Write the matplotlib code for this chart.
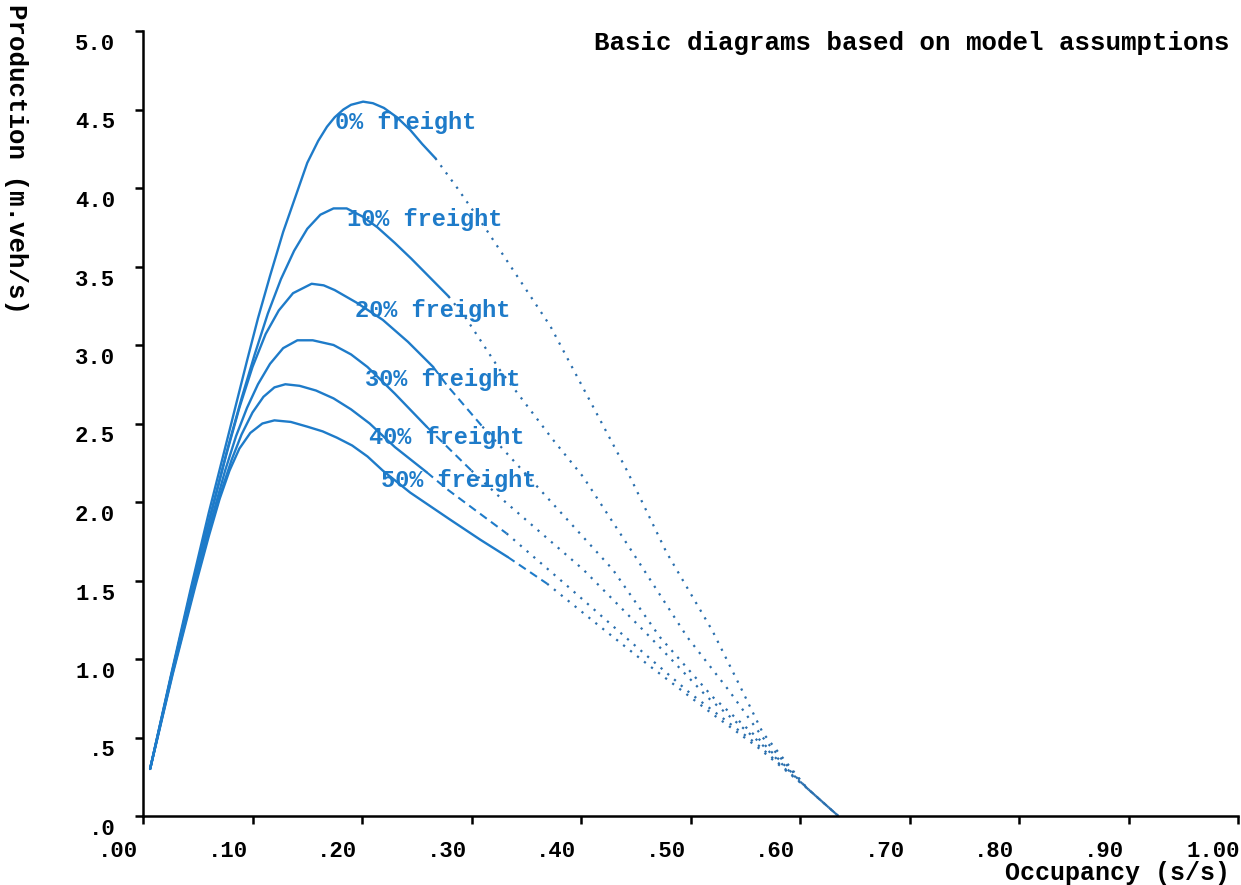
import numpy as np
import matplotlib
matplotlib.use("Agg")
import matplotlib.pyplot as plt
from matplotlib.transforms import ScaledTranslation

# production vs occupancy, one curve per freight share
freight_pct = [0, 10, 20, 30, 40, 50]

occ_0 = [0.0065, 0.025, 0.043, 0.060, 0.077, 0.086, 0.095, 0.105, 0.116, 0.128, 0.141, 0.150, 0.160, 0.168, 0.175,
         0.183, 0.190, 0.201, 0.210, 0.220, 0.232, 0.244, 0.255, 0.267,
         0.287, 0.314, 0.372, 0.442, 0.478, 0.520, 0.545, 0.566, 0.606, 0.635]
prod_0 = [0.30, 0.88, 1.43, 1.93, 2.40, 2.65, 2.90, 3.17, 3.44, 3.72, 3.98, 4.16, 4.30, 4.39, 4.45,
          4.50, 4.53, 4.55, 4.54, 4.51, 4.45, 4.37, 4.28, 4.19,
          4.00, 3.73, 3.12, 2.20, 1.68, 1.18, 0.83, 0.53, 0.18, 0.00]

occ_10 = [0.0065, 0.026, 0.045, 0.062, 0.078, 0.090, 0.102, 0.114, 0.126, 0.138, 0.150, 0.162, 0.174, 0.186,
          0.200, 0.214, 0.230, 0.245, 0.262, 0.279,
          0.295, 0.326, 0.374, 0.402, 0.447, 0.497, 0.535, 0.566, 0.606, 0.635]
prod_10 = [0.30, 0.90, 1.47, 1.93, 2.36, 2.66, 2.94, 3.20, 3.42, 3.60, 3.74, 3.83, 3.87, 3.87,
           3.82, 3.75, 3.65, 3.55, 3.43, 3.31,
           3.17, 2.84, 2.40, 2.16, 1.68, 1.14, 0.80, 0.50, 0.18, 0.00]

occ_20 = [0.0065, 0.026, 0.046, 0.062, 0.076, 0.088, 0.100, 0.112, 0.124, 0.137, 0.154, 0.165, 0.175, 0.195,
          0.219, 0.242, 0.265, 0.278, 0.310, 0.365, 0.429, 0.472, 0.520, 0.564, 0.606, 0.635]
prod_20 = [0.30, 0.90, 1.49, 1.92, 2.30, 2.60, 2.86, 3.07, 3.22, 3.33, 3.39, 3.38, 3.35, 3.27,
           3.16, 3.02, 2.86, 2.74, 2.48, 2.06, 1.57, 1.14, 0.76, 0.48, 0.18, 0.00]

occ_30 = [0.0065, 0.026, 0.047, 0.063, 0.075, 0.085, 0.095, 0.105, 0.116, 0.128, 0.141, 0.155, 0.174, 0.190,
          0.205, 0.230, 0.259, 0.278, 0.300, 0.326, 0.402, 0.463, 0.515, 0.563, 0.606, 0.635]
prod_30 = [0.30, 0.89, 1.48, 1.90, 2.20, 2.42, 2.60, 2.75, 2.88, 2.98, 3.03, 3.03, 3.00, 2.94,
           2.86, 2.69, 2.48, 2.35, 2.20, 2.03, 1.57, 1.14, 0.76, 0.47, 0.18, 0.00]

occ_40 = [0.0065, 0.027, 0.048, 0.062, 0.072, 0.081, 0.090, 0.100, 0.110, 0.120, 0.130, 0.143, 0.158, 0.174,
          0.190, 0.207, 0.230, 0.259, 0.278, 0.332, 0.390, 0.447, 0.500, 0.562, 0.606, 0.635]
prod_40 = [0.30, 0.91, 1.49, 1.85, 2.08, 2.27, 2.43, 2.57, 2.67, 2.73, 2.75, 2.74, 2.71, 2.66,
           2.59, 2.50, 2.35, 2.19, 2.08, 1.80, 1.45, 1.10, 0.78, 0.45, 0.18, 0.00]

occ_50 = [0.0065, 0.027, 0.048, 0.060, 0.070, 0.079, 0.088, 0.098, 0.109, 0.120, 0.135, 0.150, 0.164, 0.177,
          0.191, 0.205, 0.219, 0.244, 0.280, 0.308, 0.333,
          0.369, 0.415, 0.460, 0.490, 0.520, 0.561, 0.606, 0.635]
prod_50 = [0.30, 0.90, 1.47, 1.78, 2.02, 2.20, 2.34, 2.44, 2.50, 2.52, 2.51, 2.48, 2.45, 2.41,
           2.36, 2.29, 2.20, 2.06, 1.89, 1.76, 1.65,
           1.48, 1.22, 0.97, 0.81, 0.65, 0.44, 0.18, 0.00]

# where each curve stops being drawn solid / dashed
solid_until = [0.267, 0.279, 0.265, 0.259, 0.259, 0.333]
dashed_until = [0.267, 0.279, 0.310, 0.300, 0.332, 0.369]

x_ticks = [0.0, 0.1, 0.2, 0.3, 0.4, 0.5, 0.6, 0.7, 0.8, 0.9, 1.0]
x_ticklabels = [".00", ".10", ".20", ".30", ".40", ".50", ".60", ".70", ".80", ".90", "1.00"]
y_ticks = [0.0, 0.5, 1.0, 1.5, 2.0, 2.5, 3.0, 3.5, 4.0, 4.5, 5.0]
y_ticklabels = [".0", ".5", "1.0", "1.5", "2.0", "2.5", "3.0", "3.5", "4.0", "4.5", "5.0"]

# curve label anchors (data coords)
lab_x = [0.175, 0.186, 0.194, 0.203, 0.206, 0.217]
lab_y = [4.42, 3.80, 3.22, 2.78, 2.41, 2.14]

BLUE = "#1e7bc9"
DOT = "#2a6fae"
FONT = "Liberation Mono"

curves = [(occ_0, prod_0), (occ_10, prod_10), (occ_20, prod_20),
          (occ_30, prod_30), (occ_40, prod_40), (occ_50, prod_50)]

fig = plt.figure(figsize=(12.41, 8.85), dpi=100)
ax = fig.add_axes([143 / 1241, 1 - 816 / 885, (1238 - 143) / 1241, (816 - 31) / 885])

for (occ, prod), s, d in zip(curves, solid_until, dashed_until):
    occ = np.array(occ)
    prod = np.array(prod)
    m1 = occ <= s
    m2 = (occ >= s) & (occ <= d)
    m3 = occ >= d
    ax.plot(occ[m1], prod[m1], color=BLUE, lw=1.7, solid_joinstyle="round", solid_capstyle="round")
    if m2.sum() > 1:
        ax.plot(occ[m2], prod[m2], color=BLUE, lw=1.5, ls=(0, (4, 2.5)))
    ax.plot(occ[m3], prod[m3], color=DOT, lw=1.6, ls=(0, (1, 3)))

for pct, lx, ly in zip(freight_pct, lab_x, lab_y):
    ax.text(lx, ly, "%d%% freight" % pct, color=BLUE, family=FONT, fontweight="bold",
            fontsize=17, ha="left", va="center")

ax.set_xlim(0, 1.0)
ax.set_ylim(0, 5.0)
for side in ["top", "right"]:
    ax.spines[side].set_visible(False)
for side in ["left", "bottom"]:
    ax.spines[side].set_linewidth(1.8)

ax.set_xticks(x_ticks)
ax.set_xticklabels(x_ticklabels)
ax.set_yticks(y_ticks)
ax.set_yticklabels(y_ticklabels)
ax.tick_params(axis="both", direction="out", length=6, width=1.8)
ax.tick_params(axis="x", pad=12)
ax.tick_params(axis="y", pad=14)
for lab in ax.get_xticklabels() + ax.get_yticklabels():
    lab.set_fontfamily(FONT)
    lab.set_fontweight("bold")
    lab.set_fontsize(16)

# labels in the original sit left of / below their ticks
dx = ScaledTranslation(-0.25, 0, fig.dpi_scale_trans)
dy = ScaledTranslation(0, -0.11, fig.dpi_scale_trans)
for lab in ax.get_xticklabels():
    lab.set_transform(lab.get_transform() + dx)
for lab in ax.get_yticklabels():
    lab.set_transform(lab.get_transform() + dy)

fig.text(1230 / 1241, 1 - 43 / 885, "Basic diagrams based on model assumptions",
         family=FONT, fontweight="bold", fontsize=18.5, ha="right", va="center")
fig.text(1230 / 1241, 1 - 873 / 885, "Occupancy (s/s)",
         family=FONT, fontweight="bold", fontsize=18, ha="right", va="center")
fig.text(16 / 1241, 1 - 4 / 885, "Production (m.veh/s)", rotation=270,
         family=FONT, fontweight="bold", fontsize=18.5, ha="center", va="top")

fig.savefig("out.png", dpi=100, facecolor="white")
